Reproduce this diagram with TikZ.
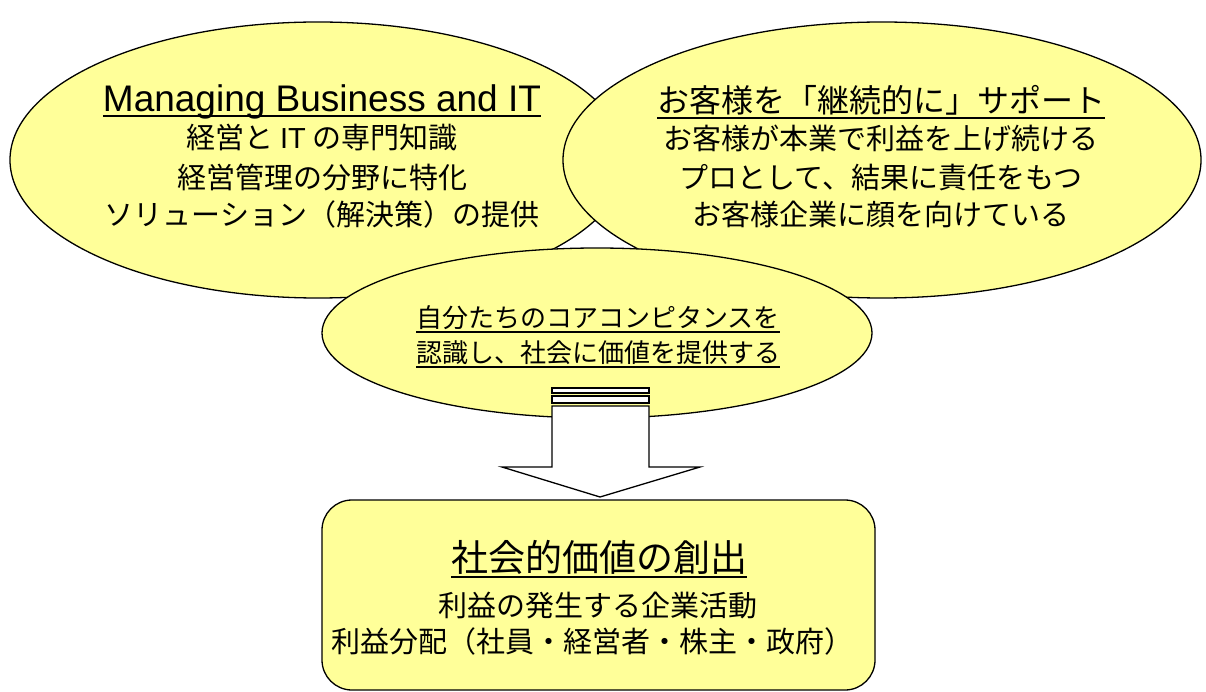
\documentclass[tikz,border=0pt]{standalone}
\usepackage{fontspec}
\setmainfont{Liberation Sans}
\newfontfamily\jp{Noto Sans CJK JP}
\usetikzlibrary{shapes.geometric}
\definecolor{ylw}{RGB}{255,255,153}
\newsavebox\ulbox
\newcommand\ulx[2]{\sbox\ulbox{#2}\rlap{\rule[-#1]{\wd\ulbox}{1.8pt}}\usebox\ulbox}
\tikzset{
  bubble/.style={ellipse, draw=black, line width=1.3pt, fill=ylw, inner sep=0pt},
  txt/.style={anchor=base, inner sep=0pt, font=\jp},
  stripe/.style={draw=black, line width=1.3pt, fill=white},
}
\begin{document}
\begin{tikzpicture}[x=1pt,y=-1pt]
\path[fill=white] (0,0) rectangle (1206,692);
\useasboundingbox (0,0) rectangle (1206,692);
% ellipses
\node[bubble, minimum width=616pt, minimum height=276pt] (left) at (318,160) {};
\node[bubble, minimum width=638pt, minimum height=276pt] (right) at (882,160) {};
\node[bubble, minimum width=550pt, minimum height=170pt] (mid) at (597,333) {};
% left texts
\node[txt, font=\fontsize{37}{40}\selectfont] (l0) at (322,112) {\ulx{5pt}{Managing Business and IT}};
\node[txt, font=\jp\fontsize{29}{32}\selectfont] (l1) at (322,149) {経営と {\rmfamily IT} の専門知識};
\node[txt, font=\jp\fontsize{29}{32}\selectfont] (l2) at (322,189) {経営管理の分野に特化};
\node[txt, font=\jp\fontsize{29}{32}\selectfont] (l3) at (322,226) {ソリューション（解決策）の提供};
% right texts
\node[txt, font=\jp\fontsize{32}{35}\selectfont] (r0) at (881,113) {\ulx{6pt}{お客様を「継続的に」サポート}};
\node[txt, font=\jp\fontsize{29}{32}\selectfont] (r1) at (881,150) {お客様が本業で利益を上げ続ける};
\node[txt, font=\jp\fontsize{29}{32}\selectfont] (r2) at (881,189) {プロとして、結果に責任をもつ};
\node[txt, font=\jp\fontsize{29}{32}\selectfont] (r3) at (881,226) {お客様企業に顔を向けている};
% middle texts
\node[txt, font=\jp\fontsize{26}{29}\selectfont] (m1) at (598,327) {\ulx{6pt}{自分たちのコアコンピタンスを}};
\node[txt, font=\jp\fontsize{26}{29}\selectfont] (m2) at (598,362) {\ulx{6pt}{認識し、社会に価値を提供する}};
% block arrow
\coordinate (aTop) at (600,388);
\coordinate (aTip) at (600,497);
\draw[stripe] (552,388) rectangle (649,393);
\draw[stripe] (552,396) rectangle (649,403);
\draw[stripe] (552,406) -- (552,467) -- (502,467) -- (aTip) -- (700,467) -- (649,467) -- (649,406) -- cycle;
% box
\draw[line width=1.3pt, fill=ylw, rounded corners=30pt] (322,500) rectangle (875,690);
\node[inner sep=0pt] (box) at (598.5,595) {};
\node[txt, font=\jp\fontsize{37}{40}\selectfont] (b0) at (599,571) {\ulx{7pt}{社会的価値の創出}};
\node[txt, font=\jp\fontsize{29}{32}\selectfont] (b1) at (598,616) {利益の発生する企業活動};
\node[txt, font=\jp\fontsize{29}{32}\selectfont] (b2) at (592,652) {利益分配（社員・経営者・株主・政府）};
\end{tikzpicture}
\end{document}
